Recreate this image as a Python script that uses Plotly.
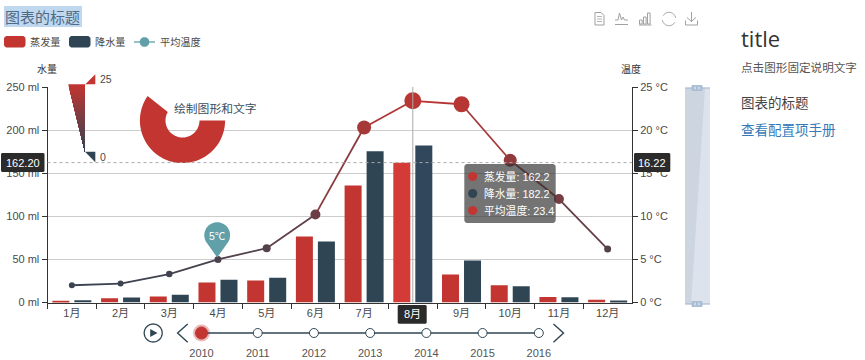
import math
import plotly.graph_objects as go

W, H = 865, 360
months = ["1月", "2月", "3月", "4月", "5月", "6月", "7月", "8月", "9月", "10月", "11月", "12月"]
evaporation = [2.0, 4.9, 7.0, 23.2, 25.6, 76.7, 135.6, 162.2, 32.6, 20.0, 6.4, 3.3]
precipitation = [2.6, 5.9, 9.0, 26.4, 28.7, 70.7, 175.6, 182.2, 48.7, 18.8, 6.0, 2.3]
temperature = [2.0, 2.2, 3.3, 5.0, 6.3, 10.2, 20.3, 23.4, 23.0, 16.5, 12.0, 6.2]
years = [2010, 2011, 2012, 2013, 2014, 2015, 2016]
left_ticks = [0, 50, 100, 150, 200, 250]
right_ticks = [0, 5, 10, 15, 20, 25]

# style-only list (not data): point sizes
marker_sizes = [6, 6, 6.5, 7, 8, 10, 14, 17, 16, 13, 10, 7]

RED = "#c23531"
NAVY = "#2f4554"
TEAL = "#61a0a8"
FONT = "Liberation Sans, Noto Sans CJK SC, sans-serif"
TXT = "#4a4a4a"


def X(px):
    return px / W


def Y(py):
    return 1 - py / H


def poly(points, close=True):
    s = "M " + " L ".join(f"{X(a):.5f},{Y(b):.5f}" for a, b in points)
    return s + (" Z" if close else "")


def arc(cx, cy, r, a0, a1, n=48):
    return [(cx + r * math.cos(math.radians(a0 + (a1 - a0) * i / n)),
             cy + r * math.sin(math.radians(a0 + (a1 - a0) * i / n))) for i in range(n + 1)]


def rrect(x0, y0, x1, y1, r):
    pts = arc(x1 - r, y0 + r, r, -90, 0, 6) + arc(x1 - r, y1 - r, r, 0, 90, 6) \
        + arc(x0 + r, y1 - r, r, 90, 180, 6) + arc(x0 + r, y0 + r, r, 180, 270, 6)
    return poly(pts)


def mix(t):
    t = max(0, min(1, t))
    a, b = (47, 69, 84), (194, 53, 49)
    return "rgb(%d,%d,%d)" % tuple(round(a[i] + (b[i] - a[i]) * t) for i in range(3))


shapes = []
annotations = []


def fill(path, color):
    shapes.append(dict(type="path", xref="paper", yref="paper", path=path,
                       fillcolor=color, line=dict(width=0), layer="above"))


def stroke(points, color="#999", width=1, dash="solid", close=False):
    shapes.append(dict(type="path", xref="paper", yref="paper", path=poly(points, close),
                       line=dict(color=color, width=width, dash=dash), layer="above"))


def text(px, py, s, size=10.5, color=TXT, anchor="left", family=FONT):
    annotations.append(dict(xref="paper", yref="paper", x=X(px), y=Y(py), text=s, showarrow=False,
                            xanchor=anchor, yanchor="middle", borderpad=0, borderwidth=0,
                            font=dict(size=size, color=color, family=family)))


fig = go.Figure()
fig.add_bar(x=months, y=evaporation, name="蒸发量", yaxis="y",
            marker=dict(color=[("#d43a36" if m == "8月" else RED) for m in months], line=dict(width=0)))
fig.add_bar(x=months, y=precipitation, name="降水量", yaxis="y",
            marker=dict(color=[("#31475c" if m == "8月" else NAVY) for m in months], line=dict(width=0)))
for i in range(len(months) - 1):
    fig.add_scatter(x=months[i:i + 2], y=temperature[i:i + 2], yaxis="y2", mode="lines",
                    line=dict(width=1.8, color=mix((temperature[i] + temperature[i + 1]) / 50)),
                    showlegend=False)
fig.add_scatter(x=months, y=temperature, yaxis="y2", mode="markers", showlegend=False,
                marker=dict(size=marker_sizes, color=temperature, cmin=0, cmax=25, opacity=1,
                            colorscale=[[0, NAVY], [1, RED]], line=dict(width=0)))

# timeline
x3_per = 56.22
x3_range = [years[0] - 201.5 / x3_per, years[0] + (W - 201.5) / x3_per]
fig.add_scatter(x=years[:1], y=[0], xaxis="x3", yaxis="y3", mode="markers", cliponaxis=False,
                marker=dict(size=17, color="rgba(194,53,49,0.35)", opacity=1), showlegend=False)
fig.add_scatter(x=years, y=[0] * len(years), xaxis="x3", yaxis="y3", mode="lines+markers", showlegend=False,
                cliponaxis=False, line=dict(color="#304654", width=1.6),
                marker=dict(size=[12] + [9] * 6, color=[RED] + ["white"] * 6, opacity=1,
                            line=dict(color=[RED] + ["#304654"] * 6, width=1)))

# highlighted title
fill(poly([(4, 6), (82, 6), (82, 27), (4, 27)]), "#bfd8f0")
text(5, 17, "图表的标题", 15, "#4f6b86")

# legend
fill(rrect(4, 36, 25.5, 47.5, 3), RED)
text(30, 42, "蒸发量", 10.2)
fill(rrect(69, 36, 90.5, 47.5, 3), NAVY)
text(95, 42, "降水量", 10.2)
stroke([(134, 42), (155, 42)], TEAL, 1.3)
fill(poly(arc(144.5, 42, 4.8, 0, 360)), TEAL)
text(160, 42, "平均温度", 10.2)

# axis names
text(47, 69, "水量", 10, "#333", "center")
text(631, 69, "温度", 10, "#333", "center")

# visual map: each slice runs to the bottom so later slices paint over without seams
N = 60
top, bot = 84.3, 151.7
for i in range(N):
    y0 = top + (bot - top) * i / N
    xl0 = 68.3 + (85 - 68.3) * i / N
    fill(poly([(xl0, y0), (85, y0), (85, bot)]), mix(1 - i / N))
fill(poly([(85.3, 84.3), (95.3, 74.3), (95.3, 84.3)]), RED)
fill(poly([(85, 151.7), (95.3, 151.7), (95.3, 162.3)]), NAVY)
text(100, 79, "25", 10.5)
text(100, 157, "0", 10.5)

# graphic donut sector with caption
cx, cy = 182.5, 120.5
sector = arc(cx, cy, 42.6, 0, 215) + arc(cx, cy, 17, 210, 0)
fill(poly(sector), RED)
text(174, 108.5, "绘制图形和文字", 11.8, "#3a4f60")

# crosshair
stroke([(47.5, 162.6), (632, 162.6)], "#aaa", 1, "3px,3px")
stroke([(412.8, 87), (412.8, 302.5)], "#aaa", 1)
fill(rrect(1, 153, 44.5, 172, 1.5), "#2b2b2b")
text(22.7, 162.6, "162.20", 11, "white", "center")
fill(rrect(634, 153, 670.3, 172, 1.5), "#2b2b2b")
text(652, 162.6, "16.22", 11, "white", "center")
fill(rrect(397.7, 305, 426.7, 323.7, 1.5), "#2b2b2b")
text(412.2, 314, "8月", 11, "white", "center")

# map pin for 5 degrees
pin = arc(217.2, 235.2, 12.9, 150, 390, 40) + [(217.2, 257.5)]
fill(poly(pin), TEAL)
text(217.2, 235.5, "5℃", 10.5, "white", "center")

# tooltip
fill(rrect(464.3, 164, 555.7, 223, 3), "rgba(50,50,50,0.68)")
for yy, col, label in [(176.5, RED, f"蒸发量: {evaporation[7]}"),
                       (193.5, NAVY, f"降水量: {precipitation[7]}"),
                       (210.5, RED, f"平均温度: {temperature[7]}")]:
    fill(poly(arc(472.7, yy, 4.5, 0, 360, 24)), col)
    text(483.5, yy, label, 10.8, "white")

# data zoom
fill(poly([(685, 88), (710, 88), (710, 304), (685, 304)]), "#dce3ec")
fill(poly([(685, 88), (705, 88), (691, 304), (685, 304)]), "#cdd5e1")
stroke([(685, 88), (710, 88)], "#a9bdd4", 1.2)
stroke([(685, 304), (710, 304)], "#a9bdd4", 1.2)
for yy in (88, 304):
    fill(rrect(691.5, yy - 3, 702.5, yy + 3, 1), "#a9bdd4")
    stroke([(695, yy - 1.5), (695, yy + 1.5)], "white", 0.8)
    stroke([(699, yy - 1.5), (699, yy + 1.5)], "white", 0.8)

# toolbox icons
ic = "#a0a0a0"
stroke([(595, 12.5), (601, 12.5), (604, 15.5), (604, 25), (595, 25)], ic, 1, close=True)
for yy in (16.5, 19, 21.5):
    stroke([(597, yy), (602, yy)], ic, 0.8)
stroke([(615, 20), (618, 20), (619.5, 13), (621.5, 20), (623, 17), (624.5, 20), (628, 20)], ic, 1)
stroke([(615, 24.5), (628, 24.5)], ic, 1)
for x0, y0 in [(639.5, 20), (643.5, 17), (647.5, 13)]:
    stroke([(x0, 24), (x0, y0), (x0 + 2.6, y0), (x0 + 2.6, 24)], ic, 1, close=True)
stroke([(639, 25), (651.5, 25)], ic, 1)
stroke(arc(669, 19, 6.7, -150, -10, 20), ic, 1)
stroke(arc(669, 19, 6.7, 30, 170, 20), ic, 1)
stroke([(691.5, 12), (691.5, 21.5)], ic, 1)
stroke([(687, 17.5), (691.5, 21.5), (696, 17.5)], ic, 1)
stroke([(685.5, 20.5), (685.5, 25), (697.5, 25), (697.5, 20.5)], ic, 1)

# timeline controls
stroke(arc(153.2, 333, 9, 0, 360), "#304654", 1.3)
fill(poly([(150.2, 329), (157.5, 333), (150.2, 337)]), "#304654")
stroke([(187.7, 324), (177.6, 333), (187.7, 342.3)], "#304654", 1.4)
stroke([(553.5, 324), (563.5, 333), (553.5, 342.3)], "#304654", 1.4)

# side panel
text(741, 38, "title", 22, "#333", family="Open Sans, Noto Sans CJK SC")
text(741, 67, "点击图形固定说明文字", 11.6, "#555")
text(741, 103, "图表的标题", 13.5, "#444")
text(741, 130, "查看配置项手册", 13.5, "#337ab7")

axis_font = dict(size=11, color=TXT, family=FONT)
fig.update_layout(
    width=W, height=H, margin=dict(l=0, r=0, t=0, b=0, pad=0, autoexpand=False),
    paper_bgcolor="white", plot_bgcolor="rgba(0,0,0,0)",
    barmode="group", bargap=0.0965, bargroupgap=0.227, hovermode=False, showlegend=False,
    font=dict(family=FONT),
    xaxis=dict(domain=[X(47.5), X(632)], type="category", range=[-0.5, 11.5], tickson="boundaries",
               ticks="outside", ticklen=5, tickcolor="#333", showline=True, linecolor="#333", linewidth=1,
               showgrid=False, tickfont=axis_font, fixedrange=True, anchor="y", dtick=1, automargin=False),
    yaxis=dict(domain=[Y(302.5), Y(87)], range=[0, 250], tickmode="array", tickvals=left_ticks,
               ticktext=[f"{v} ml" for v in left_ticks],
               ticks="outside", ticklen=5, tickcolor="#333", showline=True, linecolor="#333", linewidth=1,
               gridcolor="#ccc", gridwidth=1, zeroline=False, tickfont=axis_font, fixedrange=True, anchor="x",
               automargin=False),
    yaxis2=dict(domain=[Y(302.5), Y(87)], range=[0, 25], tickmode="array", tickvals=right_ticks,
                ticktext=[f"{v} °C" for v in right_ticks],
                overlaying="y", side="right", anchor="x", ticks="outside", ticklen=5, tickcolor="#333",
                showline=True, linecolor="#333", linewidth=1, showgrid=False, zeroline=False,
                tickfont=axis_font, fixedrange=True, automargin=False),
    xaxis3=dict(domain=[0, 1], range=x3_range, tickmode="array", tickvals=years,
                ticktext=[str(y) for y in years], anchor="y3",
                showgrid=False, zeroline=False, showline=False, ticks="outside", ticklen=4,
                tickcolor="rgba(0,0,0,0)", automargin=False,
                tickfont=dict(size=11, color="#555", family=FONT), fixedrange=True),
    yaxis3=dict(domain=[Y(338.5), Y(327.5)], range=[-1, 1], visible=False, fixedrange=True, anchor="x3",
                automargin=False),
    shapes=shapes, annotations=annotations,
)
fig.write_html("out.html", config=dict(displayModeBar=False),
               post_script="document.body.style.margin='0';document.body.style.overflow='hidden';")
